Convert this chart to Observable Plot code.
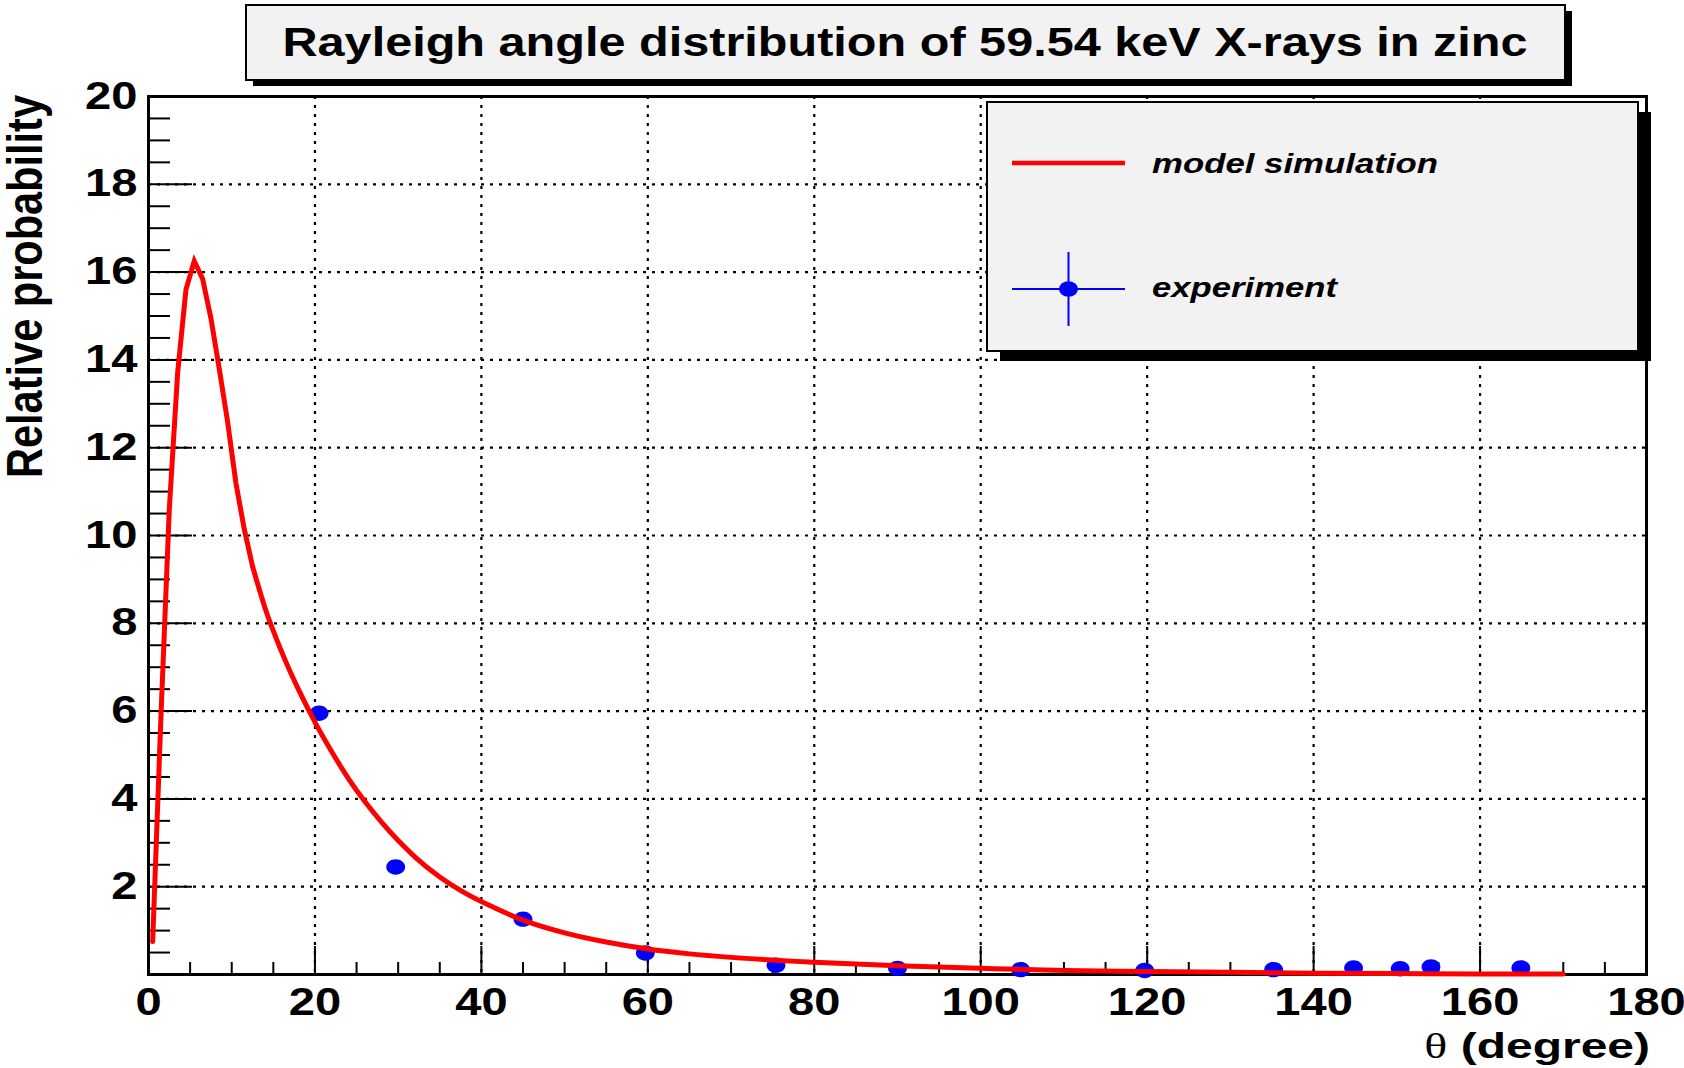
<!DOCTYPE html>
<html>
<head>
<meta charset="utf-8">
<script src="https://cdn.jsdelivr.net/npm/d3@7"></script>
<script src="https://cdn.jsdelivr.net/npm/@observablehq/plot@0.6"></script>
<style>
  html, body { margin: 0; padding: 0; background: #fff; }
  #chart { position: relative; width: 1684px; height: 1068px; }
</style>
</head>
<body>
<div id="chart"></div>
<script>
// ---- data ----
const titleText = "Rayleigh angle distribution of 59.54 keV X-rays in zinc";
const xLabelText = "(degree)";
const yLabelText = "Relative probability";
const seriesNames = ["model simulation", "experiment"];

// model simulation: peak part (sharp polyline) and tail part
const peakTheta = [0.5, 1.5, 2.5, 3.5, 4.5, 5.5, 6.5, 7.5, 8.5, 9.5, 10.5, 11.5, 12.5];
const peakProb  = [0.75, 5.9, 10.6, 13.7, 15.6, 16.25, 15.85, 14.95, 13.8, 12.6, 11.2, 10.15, 9.3];
const tailTheta = [12.5, 14, 16, 18, 20, 22, 24, 26, 28, 30, 32, 35, 38, 41, 45, 50, 55, 60, 65, 70, 80, 90, 100, 110, 120, 130, 140, 150, 160, 170];
const tailProb  = [9.3, 8.35, 7.35, 6.5, 5.75, 5.08, 4.47, 3.94, 3.47, 3.05, 2.68, 2.22, 1.86, 1.57, 1.24, 0.95, 0.74, 0.58, 0.47, 0.39, 0.28, 0.2, 0.14, 0.09, 0.07, 0.05, 0.03, 0.02, 0.01, 0.01];

const expTheta = [20.5, 29.7, 45.0, 59.7, 75.4, 90.0, 104.8, 119.7, 135.2, 144.8, 150.4, 154.1, 164.9];
const expProb  = [5.95, 2.45, 1.26, 0.49, 0.21, 0.14, 0.11, 0.09, 0.11, 0.15, 0.13, 0.17, 0.15];

const xMajor = [0, 20, 40, 60, 80, 100, 120, 140, 160, 180];
const xMinor = [5, 10, 15, 25, 30, 35, 45, 50, 55, 65, 70, 75, 85, 90, 95, 105, 110, 115, 125, 130, 135, 145, 150, 155, 165, 170, 175];
const yMajor = [0, 2, 4, 6, 8, 10, 12, 14, 16, 18, 20];
const yLabels = [2, 4, 6, 8, 10, 12, 14, 16, 18, 20];
const yMinor = [0.5, 1, 1.5, 2.5, 3, 3.5, 4.5, 5, 5.5, 6.5, 7, 7.5, 8.5, 9, 9.5, 10.5, 11, 11.5, 12.5, 13, 13.5, 14.5, 15, 15.5, 16.5, 17, 17.5, 18.5, 19, 19.5];

const modelPeak = peakTheta.map((t, i) => ({theta: t, prob: peakProb[i]}));
const modelTail = tailTheta.map((t, i) => ({theta: t, prob: tailProb[i]}));
const experiment = expTheta.map((t, i) => ({theta: t, prob: expProb[i]}));

// ellipse marker (ROOT circle marker is stretched horizontally)
const ellipse = {
  draw(ctx, size) {
    const r = Math.sqrt(size / Math.PI);
    const rx = r * 1.18, ry = r * 0.96, k = 0.5523;
    ctx.moveTo(rx, 0);
    ctx.bezierCurveTo(rx, k * ry, k * rx, ry, 0, ry);
    ctx.bezierCurveTo(-k * rx, ry, -rx, k * ry, -rx, 0);
    ctx.bezierCurveTo(-rx, -k * ry, -k * rx, -ry, 0, -ry);
    ctx.bezierCurveTo(k * rx, -ry, rx, -k * ry, rx, 0);
    ctx.closePath();
  }
};

const FONT = "'Liberation Sans', Arial, Helvetica, sans-serif";
const grid = {stroke: "#000", strokeOpacity: 1, strokeWidth: 2.2, strokeDasharray: "3,6"};
const lineStyle = {x: "theta", y: "prob", stroke: "#ff0000", strokeWidth: 5, strokeLinejoin: "miter", strokeMiterlimit: 10};

const svgEl = Plot.plot({
  width: 1684,
  height: 1068,
  marginLeft: 148,
  marginRight: 38,
  marginTop: 96,
  marginBottom: 94,
  style: {fontFamily: FONT, background: "#fff", color: "#000"},
  x: {domain: [0, 180]},
  y: {domain: [0, 20]},
  marks: [
    Plot.gridX(xMajor, grid),
    Plot.gridY(yMajor, grid),
    Plot.axisX(xMinor, {tickSize: -12, strokeWidth: 2, fill: "none", label: null}),
    Plot.axisX(xMajor, {tickSize: -28, strokeWidth: 2, fill: "none", label: null}),
    Plot.axisY(yMinor, {tickSize: -22, strokeWidth: 2, fill: "none", label: null}),
    Plot.axisY(yMajor, {tickSize: -44, strokeWidth: 2, fill: "none", label: null}),
    Plot.axisX(xMajor, {tickSize: 0, tickPadding: 14, fontSize: 38, fontWeight: "bold", label: null, fill: "#000"}),
    Plot.axisY(yLabels, {tickSize: 0, tickPadding: 11, fontSize: 38, fontWeight: "bold", label: null, fill: "#000"}),
    Plot.frame({stroke: "#000", strokeWidth: 3}),
    Plot.dot(experiment, {x: "theta", y: "prob", r: 8, symbol: ellipse, fill: "#0000ff", stroke: "none"}),
    Plot.line(modelPeak, {...lineStyle, curve: "linear"}),
    Plot.line(modelTail, {...lineStyle, curve: "monotone-x"})
  ]
});

document.getElementById("chart").appendChild(svgEl);

// stretch tick labels horizontally as in the reference rendering
const svg = d3.select(svgEl);
svg.selectAll('g[aria-label="x-axis tick label"] text, g[aria-label="y-axis tick label"] text').each(function () {
  const t = d3.select(this);
  const tr = t.attr("transform");
  if (tr) t.attr("transform", tr + " scale(1.24,1)");
});

// axis titles
svg.append("text")
  .attr("transform", "translate(42,95) rotate(-90) scale(1,1.2)")
  .attr("text-anchor", "end")
  .attr("font-family", FONT)
  .attr("font-weight", "bold")
  .attr("font-size", 41.5)
  .attr("textLength", 383)
  .attr("lengthAdjust", "spacingAndGlyphs")
  .attr("fill", "#000")
  .text(yLabelText);

const xl = svg.append("text")
  .attr("transform", "translate(1650,1058) scale(1.24,1)")
  .attr("text-anchor", "end")
  .attr("font-family", FONT)
  .attr("font-weight", "bold")
  .attr("font-size", 36)
  .attr("textLength", 182)
  .attr("lengthAdjust", "spacingAndGlyphs")
  .attr("fill", "#000");
xl.append("tspan").attr("font-family", "'Liberation Serif', 'Times New Roman', serif").attr("font-weight", "normal").text("\u03b8");
xl.append("tspan").text(" " + xLabelText);

// title box
const tg = svg.append("g").attr("text-anchor", "start");
tg.append("rect").attr("x", 253).attr("y", 11).attr("width", 1319).attr("height", 75).attr("fill", "#000");
tg.append("rect").attr("x", 246).attr("y", 5).attr("width", 1319).attr("height", 75)
  .attr("fill", "#f2f2f2").attr("stroke", "#000").attr("stroke-width", 2);
tg.append("text")
  .attr("x", 282.5).attr("y", 56)
  .attr("text-anchor", "start")
  .attr("font-family", FONT).attr("font-weight", "bold").attr("font-size", 41)
  .attr("textLength", 1245).attr("lengthAdjust", "spacingAndGlyphs")
  .attr("fill", "#000")
  .text(titleText);

// legend box
const lg = svg.append("g").attr("text-anchor", "start");
lg.append("rect").attr("x", 1000).attr("y", 112).attr("width", 651).attr("height", 249).attr("fill", "#000");
lg.append("rect").attr("x", 987).attr("y", 102).attr("width", 651).attr("height", 249)
  .attr("fill", "#f2f2f2").attr("stroke", "#000").attr("stroke-width", 2);
lg.append("line").attr("x1", 1012).attr("x2", 1125).attr("y1", 163).attr("y2", 163)
  .attr("stroke", "#ff0000").attr("stroke-width", 4.5);
lg.append("text").attr("x", 1152).attr("y", 173)
  .attr("text-anchor", "start")
  .attr("font-family", FONT).attr("font-weight", "bold").attr("font-style", "italic").attr("font-size", 28)
  .attr("textLength", 286).attr("lengthAdjust", "spacingAndGlyphs").attr("fill", "#000")
  .text(seriesNames[0]);
lg.append("line").attr("x1", 1012).attr("x2", 1125).attr("y1", 289).attr("y2", 289)
  .attr("stroke", "#0000ff").attr("stroke-width", 2);
lg.append("line").attr("x1", 1068.5).attr("x2", 1068.5).attr("y1", 252).attr("y2", 326)
  .attr("stroke", "#0000ff").attr("stroke-width", 2);
lg.append("ellipse").attr("cx", 1068.5).attr("cy", 289).attr("rx", 9.5).attr("ry", 7.7).attr("fill", "#0000ff");
lg.append("text").attr("x", 1152).attr("y", 297)
  .attr("text-anchor", "start")
  .attr("font-family", FONT).attr("font-weight", "bold").attr("font-style", "italic").attr("font-size", 28)
  .attr("textLength", 185).attr("lengthAdjust", "spacingAndGlyphs").attr("fill", "#000")
  .text(seriesNames[1]);
</script>
</body>
</html>
